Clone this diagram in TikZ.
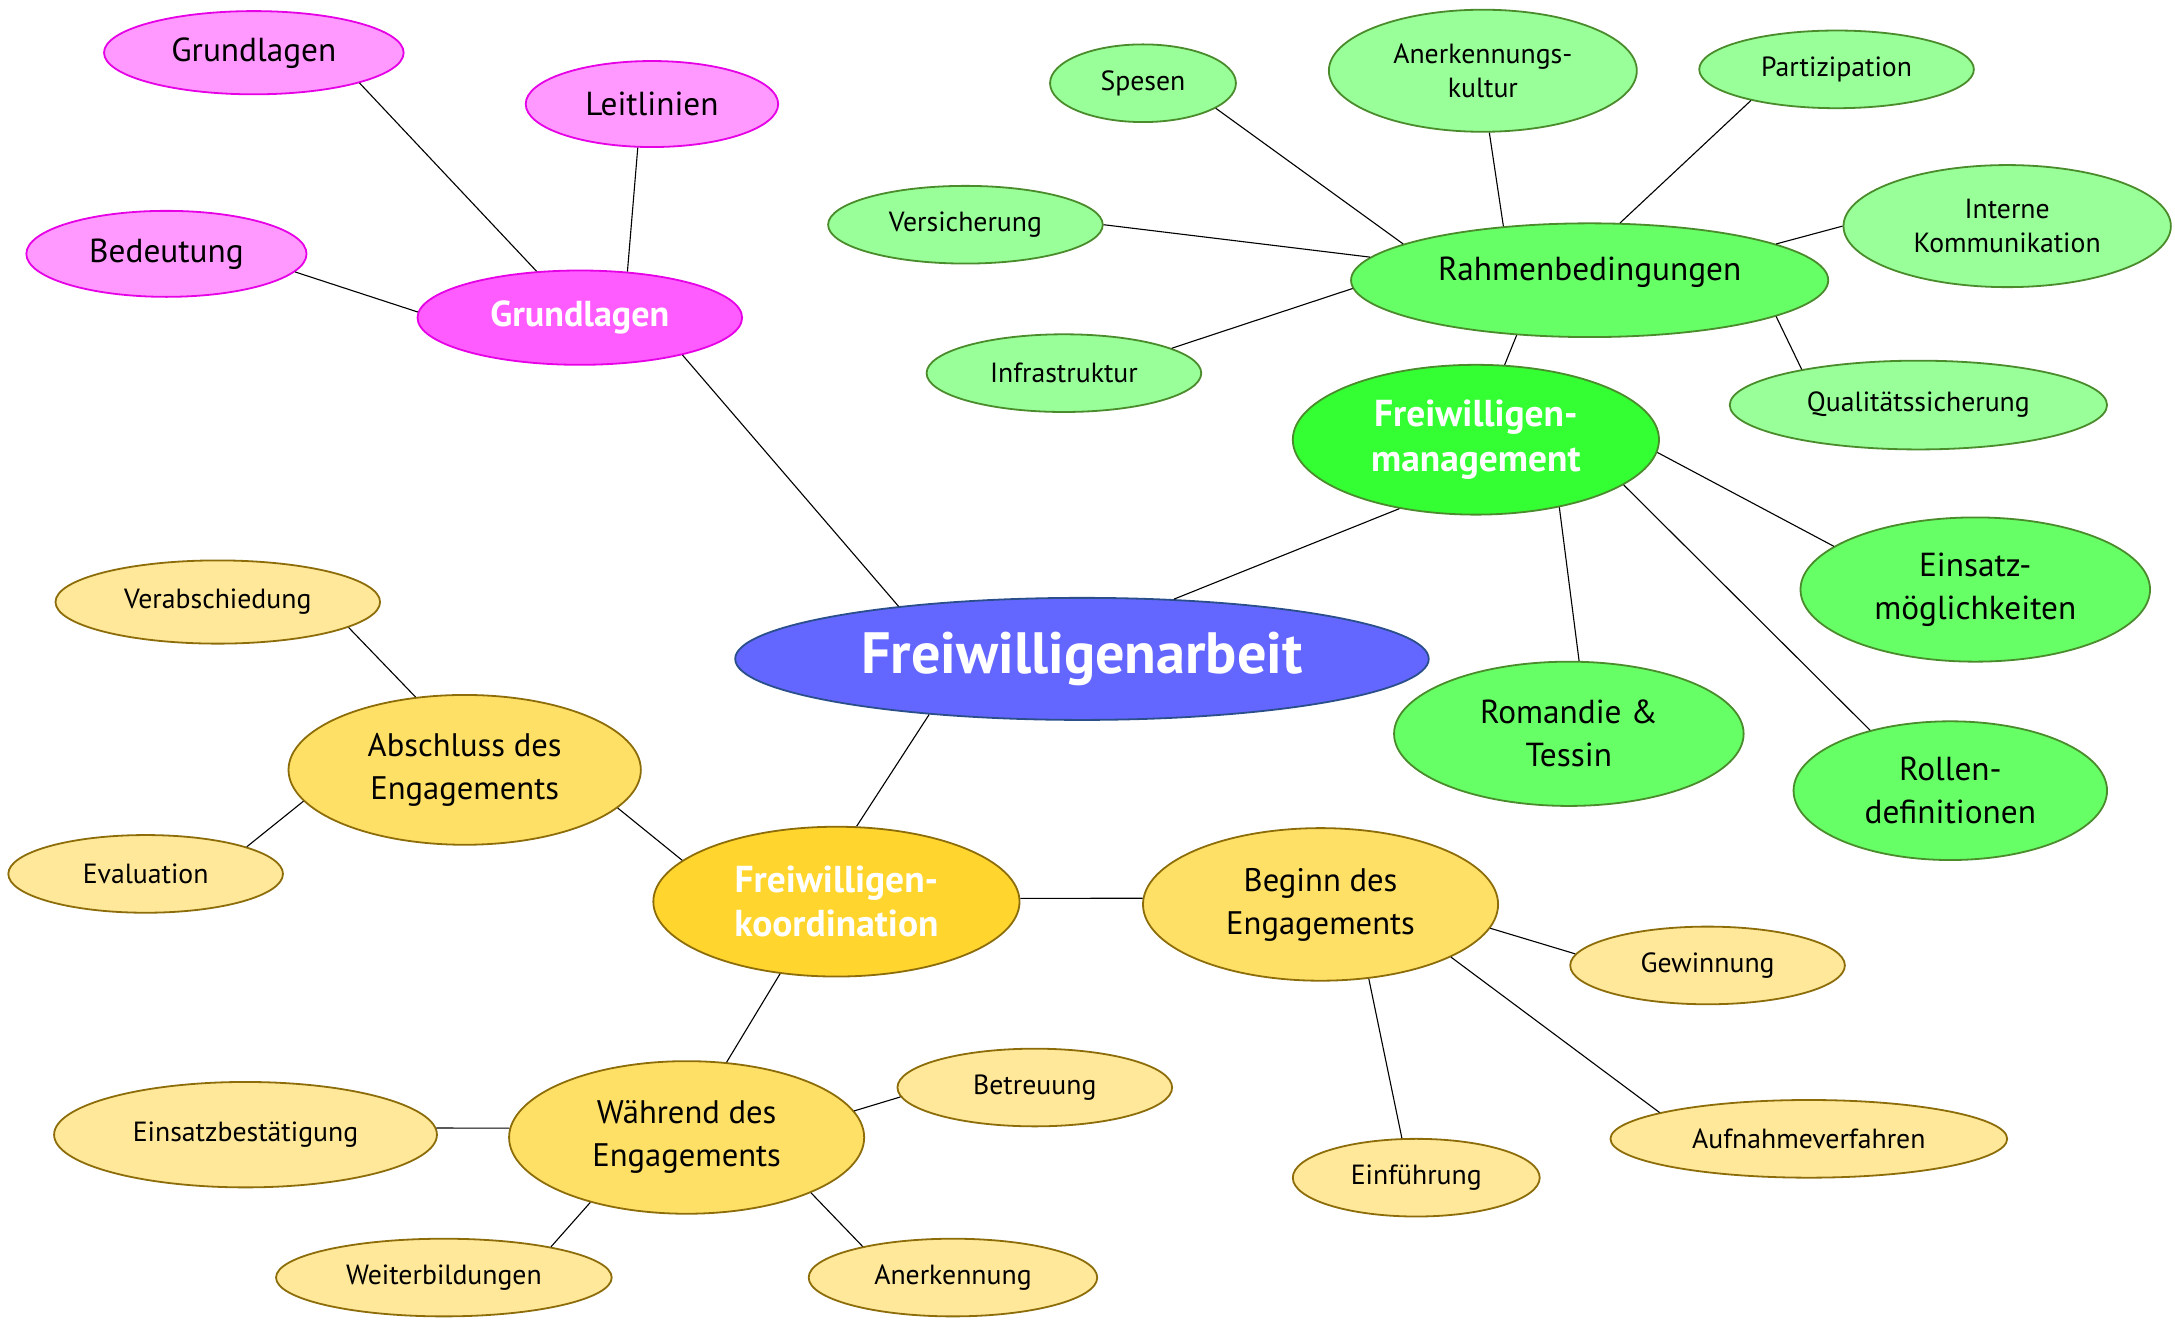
\documentclass[tikz,border=0pt]{standalone}
\usepackage{fontspec}
\setmainfont{PT Sans}
\usetikzlibrary{shapes.geometric}
\definecolor{bluefill}{HTML}{6366FF}
\definecolor{bluedraw}{HTML}{2B4F8A}
\definecolor{pinkmain}{HTML}{FF5CFF}
\definecolor{pinklight}{HTML}{FF99FF}
\definecolor{pinkdraw}{HTML}{E600E6}
\definecolor{greenmain}{HTML}{33FF33}
\definecolor{greenmid}{HTML}{66FF66}
\definecolor{greenlight}{HTML}{99FF99}
\definecolor{greendraw}{HTML}{4A8B2C}
\definecolor{yellowmain}{HTML}{FFD52E}
\definecolor{yellowmid}{HTML}{FFE066}
\definecolor{yellowlight}{HTML}{FFE899}
\definecolor{yellowdraw}{HTML}{8C6D0A}
\tikzset{
  bub/.style 2 args={ellipse, inner sep=0pt, line width=1.3pt, align=center,
    minimum width=#1pt, minimum height=#2pt},
  rootbub/.style={fill=bluefill, draw=bluedraw, text=white, font=\fontsize{42}{50}\selectfont\bfseries},
  pinkA/.style={fill=pinkmain, draw=pinkdraw, text=white, font=\fontsize{26}{32}\selectfont\bfseries},
  pinkB/.style={fill=pinklight, draw=pinkdraw, text=black, font=\fontsize{24}{31}\selectfont},
  greenA/.style={fill=greenmain, draw=greendraw, text=white, font=\fontsize{27}{32}\selectfont\bfseries},
  greenB/.style={fill=greenmid, draw=greendraw, text=black, font=\fontsize{24}{31}\selectfont},
  greenC/.style={fill=greenlight, draw=greendraw, text=black, font=\fontsize{20}{25}\selectfont},
  yelA/.style={fill=yellowmain, draw=yellowdraw, text=white, font=\fontsize{27}{32}\selectfont\bfseries},
  yelB/.style={fill=yellowmid, draw=yellowdraw, text=black, font=\fontsize{23.5}{31}\selectfont},
  yelC/.style={fill=yellowlight, draw=yellowdraw, text=black, font=\fontsize{20}{25}\selectfont},
  link/.style={draw=black, line width=0.8pt}
}
\begin{document}
\begin{tikzpicture}[x=1pt, y=-1pt]
\useasboundingbox (0,0) rectangle (1568,951);
% nodes
\node[bub={500}{88}, rootbub] (root) at (780,475) {Freiwilligenarbeit};
% pink
\node[bub={234}{68}, pinkA] (gm) at (418,229) {Grundlagen};
\node[bub={216}{60}, pinkB] (gc) at (183,38) {Grundlagen};
\node[bub={182}{62}, pinkB] (leit) at (470,75) {Leitlinien};
\node[bub={202}{62}, pinkB] (bed) at (120,183) {Bedeutung};
% green
\node[bub={264}{108}, greenA] (fm) at (1064,317) {Freiwilligen-\\management};
\node[bub={344}{82}, greenB] (rb) at (1146,202) {\raisebox{0pt}[0pt][0pt]{Rahmenbedingungen}};
\node[bub={134}{56}, greenC] (spe) at (824,60) {Spesen};
\node[bub={222}{88}, greenC] (ank) at (1069,51) {Anerkennungs-\\kultur};
\node[bub={198}{56}, greenC] (par) at (1324,50) {Partizipation};
\node[bub={198}{56}, greenC] (ver) at (696,162) {Versicherung};
\node[bub={236}{88}, greenC] (ik) at (1447,163) {Interne\\Kommunikation};
\node[bub={198}{56}, greenC] (inf) at (767,269) {Infrastruktur};
\node[bub={272}{64}, greenC] (qs) at (1383,292) {Qualitätssicherung};
\node[bub={252}{104}, greenB] (em) at (1424,425) {Einsatz-\\möglichkeiten};
\node[bub={252}{104}, greenB] (rt) at (1131,529) {Romandie \&\\Tessin};
\node[bub={226}{100}, greenB] (rd) at (1406,570) {Rollen-\\definitionen};
% yellow
\node[bub={264}{108}, yelA] (fk) at (603,650) {Freiwilligen-\\koordination};
\node[bub={254}{108}, yelB] (ab) at (335,555) {Abschluss des\\Engagements};
\node[bub={256}{110}, yelB] (be) at (952,652) {Beginn des\\Engagements};
\node[bub={256}{110}, yelB] (wa) at (495,820) {Während des\\Engagements};
\node[bub={234}{60}, yelC] (vab) at (157,434) {Verabschiedung};
\node[bub={198}{56}, yelC] (eva) at (105,630) {Evaluation};
\node[bub={198}{56}, yelC] (gew) at (1231,696) {Gewinnung};
\node[bub={286}{56}, yelC] (auf) at (1304,821) {Aufnahmeverfahren};
\node[bub={178}{56}, yelC] (ein) at (1021,849) {Einführung};
\node[bub={198}{56}, yelC] (bet) at (746,784) {Betreuung};
\node[bub={276}{76}, yelC] (eb) at (177,818) {Einsatzbestätigung};
\node[bub={242}{56}, yelC] (wb) at (320,921) {Weiterbildungen};
\node[bub={208}{56}, yelC] (ane) at (687,921) {Anerkennung};
% connectors
\draw[link] (gm.-20) -- (root.164);
\draw[link] (fm.-138) -- (root.33);
\draw[link] (root.-160) -- (fk.75);
\draw[link] (gm.133) -- (gc.-16);
\draw[link] (gm.44) -- (leit.-108);
\draw[link] (gm.178) -- (bed.-8);
\draw[link] (fm.69) -- (rb.-143);
\draw[link] (fm.-4) -- (em.163);
\draw[link] (fm.-39) -- (rt.82);
\draw[link] (fm.-17) -- (rd.143);
\draw[link] (rb.169) -- (spe.-19);
\draw[link] (rb.148) -- (ank.-84);
\draw[link] (rb.62) -- (par.-160);
\draw[link] (rb.174) -- (ver.0);
\draw[link] (rb.182) -- (inf.13);
\draw[link] (rb.11) -- (ik.180);
\draw[link] (rb.-11) -- (qs.163);
\draw[link] (fk.165) -- (ab.-14);
\draw[link] (fk.1) -- (be.178);
\draw[link] (fk.-128) -- (wa.62);
\draw[link] (ab.124) -- (vab.-11);
\draw[link] (ab.191) -- (eva.15);
\draw[link] (be.-8) -- (gew.175);
\draw[link] (be.-22) -- (auf.170);
\draw[link] (be.-57) -- (ein.110);
\draw[link] (wa.9) -- (bet.184);
\draw[link] (wa.177) -- (eb.2);
\draw[link] (wa.214) -- (wb.16);
\draw[link] (wa.-24) -- (ane.161);
\end{tikzpicture}
\end{document}
